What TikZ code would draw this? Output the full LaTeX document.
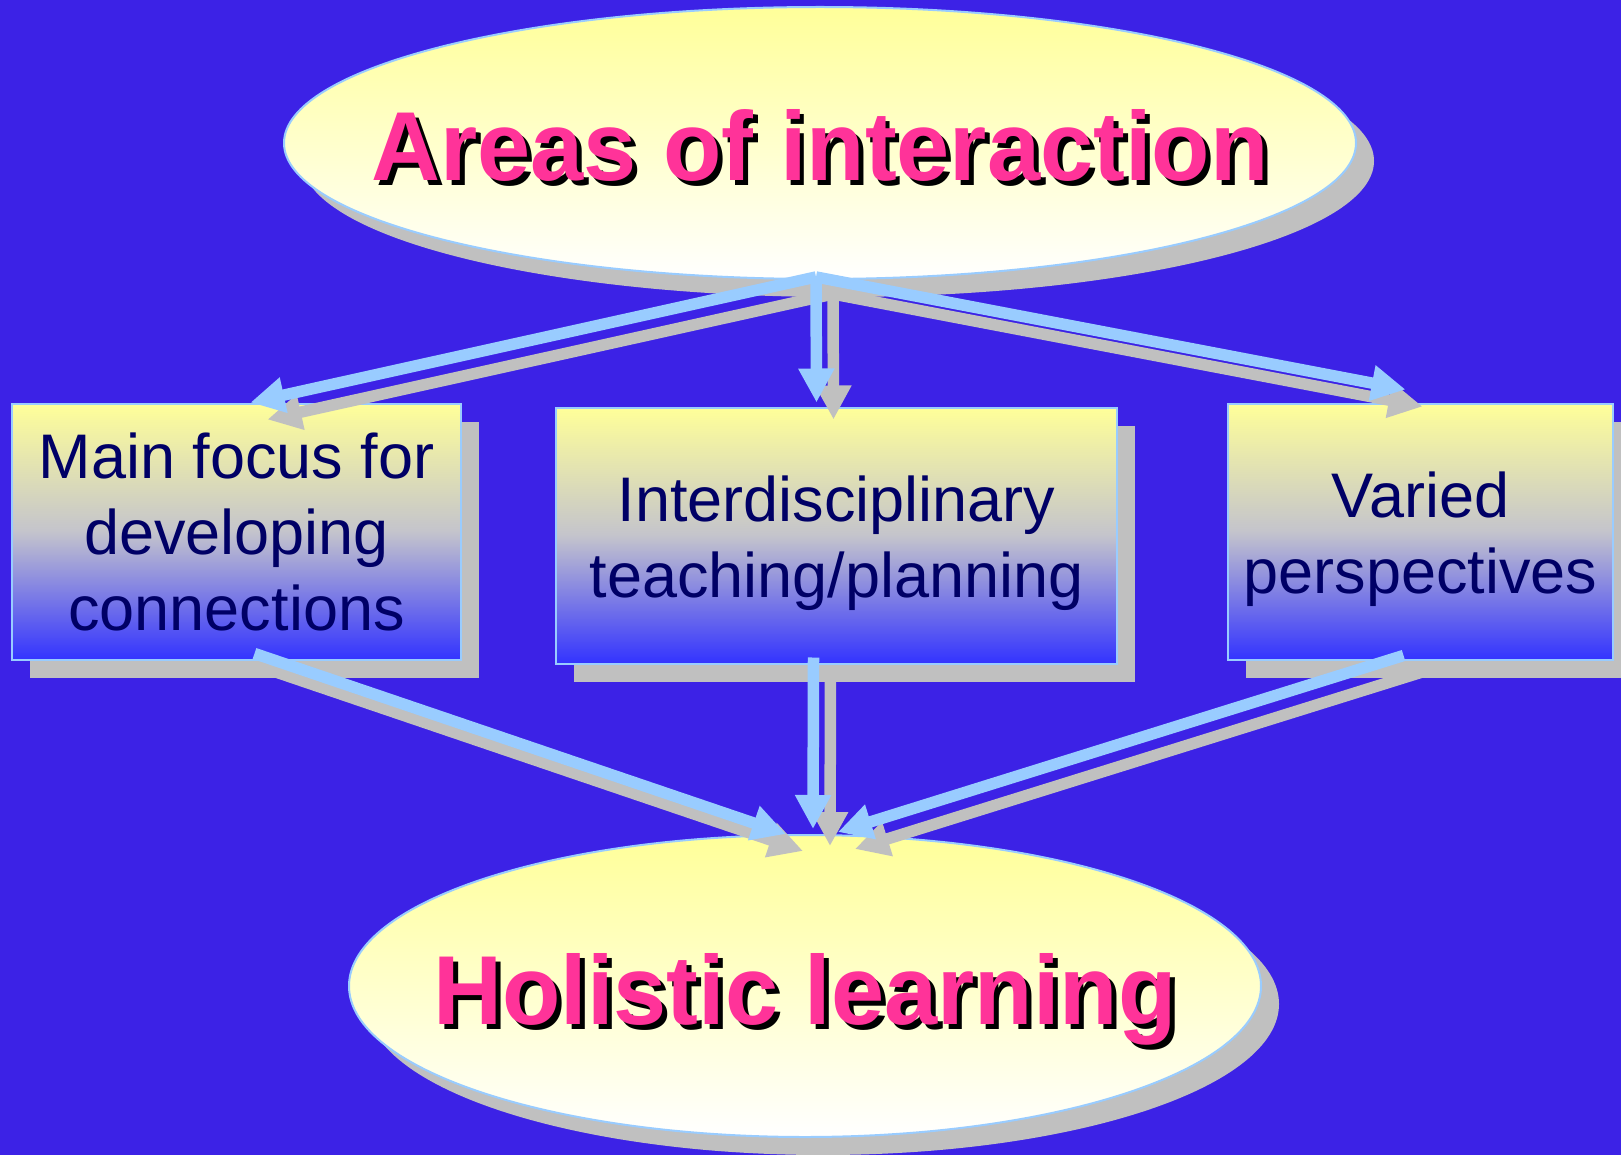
\documentclass[tikz,border=0pt]{standalone}
\usepackage{fontspec}
\setmainfont{Liberation Sans}
\usetikzlibrary{shapes.geometric, shadows, arrows.meta}
\definecolor{backdrop}{RGB}{60,34,230}
\definecolor{paleyellow}{RGB}{255,255,153}
\definecolor{panelblue}{RGB}{51,51,255}
\definecolor{panelmid}{RGB}{196,196,204}
\definecolor{skyline}{RGB}{153,204,255}
\definecolor{shadowgrey}{RGB}{192,192,192}
\definecolor{navytext}{RGB}{0,0,102}
\definecolor{hotpink}{RGB}{255,51,153}
\newcommand\embossed[1]{\scalebox{0.975}[1]{\makebox[0pt][l]{\kern5pt\raisebox{-5pt}{\color{black}#1}}{\color{hotpink}#1}}}
\newcommand\lowstrut{\rule{0pt}{62pt}}
\tikzstyle{bubble}=[ellipse, draw=skyline, line width=2pt, top color=paleyellow, bottom color=white, inner sep=0pt, drop shadow={shadow xshift=18pt, shadow yshift=-18pt, fill=shadowgrey, opacity=1}]
\tikzstyle{panel}=[rectangle, draw=skyline, line width=2pt, top color=paleyellow, bottom color=panelblue, middle color=panelmid, minimum height=256pt, align=center, text=navytext, font=\fontsize{63}{76}\selectfont, drop shadow={shadow xshift=18pt, shadow yshift=-18pt, fill=shadowgrey, opacity=1}]
\tikzstyle{headline}=[anchor=base, inner sep=0pt, font=\bfseries\fontsize{98}{100}\selectfont]
\tikzstyle{flow}=[draw=skyline, line width=11.5pt, -{Triangle[length=34pt, width=34pt]}]
\tikzstyle{echo}=[flow, draw=shadowgrey, transform canvas={xshift=17pt, yshift=-17pt}]

\begin{document}
\begin{tikzpicture}[x=1pt, y=-1pt]
    \useasboundingbox (0,0) rectangle (1621,1155);
    \clip (0,0) rectangle (1621,1155);
    \fill[backdrop] (0,0) rectangle (1621,1155);

    % ovals
    \node[bubble, minimum width=1072pt, minimum height=272pt] (areas) at (820,143) {};
    \node[bubble, minimum width=912pt, minimum height=302pt] (holistic) at (805,986) {};
    \node[headline] (areastext) at ([yshift=-38pt]areas.center) {\embossed{Areas of interaction}};
    \node[headline] (holistictext) at ([yshift=-38pt]holistic.center) {\embossed{Holistic learning}};

    % boxes
    \node[panel, minimum width=449pt] (focus) at (236.5,531.5) {Main focus for\\developing\\connections};
    \node[panel, minimum width=561pt] (inter) at (836.5,535.5) {\lowstrut Interdisciplinary\\teaching/planning};
    \node[panel, minimum width=385pt] (varied) at (1420.5,531.5) {\lowstrut Varied\\perspectives};

    \coordinate (apex) at ([shift={(-4,-3)}]areas.south);
    \coordinate (focusin) at ([shift={(14,0)}]focus.north);
    \coordinate (interin) at ([shift={(-20,-4)}]inter.north);
    \coordinate (variedin) at ([shift={(-15,-13)}]varied.north);
    \coordinate (focusout) at ([shift={(18,-7)}]focus.south);
    \coordinate (interout) at ([shift={(-23,-7)}]inter.south);
    \coordinate (variedout) at ([shift={(-17,-5)}]varied.south);
    \coordinate (holleft) at ([shift={(-19,0)}]holistic.north);
    \coordinate (holmid) at ([shift={(8,-5)}]holistic.north);
    \coordinate (holright) at ([shift={(33,-2)}]holistic.north);

    % arrows, grey copy first
    \draw[echo] (apex) -- (focusin);
    \draw[echo] (apex) -- (interin);
    \draw[echo] (apex) -- (variedin);
    \draw[echo] (focusout) -- (holleft);
    \draw[echo] (interout) -- (holmid);
    \draw[echo] (variedout) -- (holright);
    \draw[flow] (apex) -- (focusin);
    \draw[flow] (apex) -- (interin);
    \draw[flow] (apex) -- (variedin);
    \draw[flow] (focusout) -- (holleft);
    \draw[flow] (interout) -- (holmid);
    \draw[flow] (variedout) -- (holright);
\end{tikzpicture}
\end{document}
